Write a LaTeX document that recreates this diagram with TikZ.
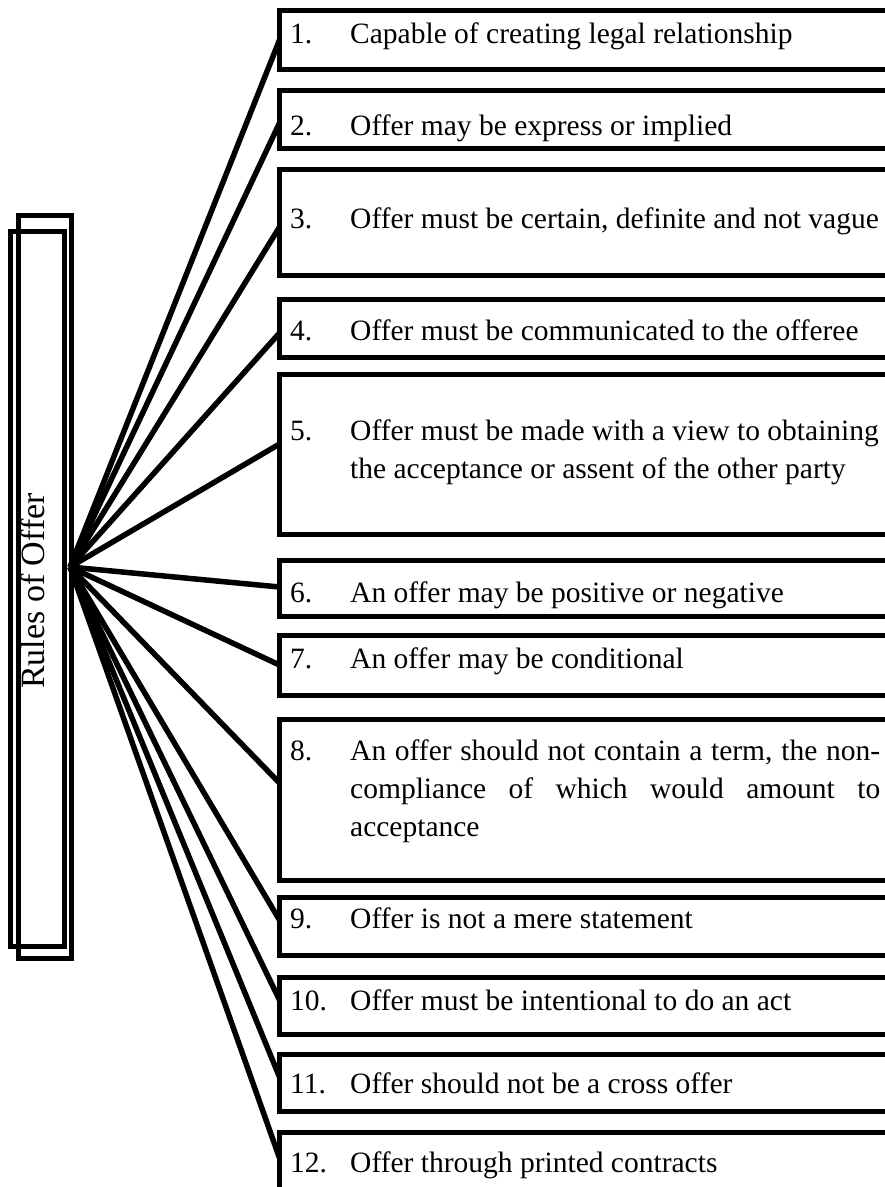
\documentclass[tikz,border=0pt]{standalone}
\usepackage{fontspec}
\setmainfont{Liberation Serif}
\usetikzlibrary{calc}
\begin{document}
\begin{tikzpicture}[x=1pt,y=-1pt,
  frame/.style={draw, line width=5pt, rectangle, inner sep=0pt, outer sep=0pt, anchor=north west},
  link/.style={line width=5.5pt},
  num/.style={anchor=base west, inner sep=0pt, font=\fontsize{29.5}{36}\selectfont},
  txt/.style={anchor=base west, inner sep=0pt, font=\fontsize{29.5}{36}\selectfont}]
\useasboundingbox (0,0) rectangle (885,1187);
\clip (0,0) rectangle (885,1187);

% title column: two overlapping frames
\node[frame, minimum width=52.5pt, minimum height=743pt] (rules) at (18.5,215) {};
\node[frame, minimum width=54pt, minimum height=715pt] (rulesback) at (10.5,231) {};
\node[rotate=90, anchor=base, inner sep=0pt, font=\fontsize{34}{40}\selectfont] (title) at (44,591) {Rules of Offer};
\coordinate (hub) at (70,567);

% rule frames (open to the right)
\node[frame, minimum width=630pt, minimum height=59pt]  (b1)  at (279.5,10)   {};
\node[frame, minimum width=630pt, minimum height=58pt]  (b2)  at (279.5,90)   {};
\node[frame, minimum width=630pt, minimum height=106pt] (b3)  at (279.5,169)  {};
\node[frame, minimum width=630pt, minimum height=58pt]  (b4)  at (279.5,299)  {};
\node[frame, minimum width=630pt, minimum height=160pt] (b5)  at (279.5,374)  {};
\node[frame, minimum width=630pt, minimum height=56pt]  (b6)  at (279.5,560)  {};
\node[frame, minimum width=630pt, minimum height=60pt]  (b7)  at (279.5,635)  {};
\node[frame, minimum width=630pt, minimum height=161pt] (b8)  at (279.5,719)  {};
\node[frame, minimum width=630pt, minimum height=58pt]  (b9)  at (279.5,897)  {};
\node[frame, minimum width=630pt, minimum height=57pt]  (b10) at (279.5,977)  {};
\node[frame, minimum width=630pt, minimum height=57pt]  (b11) at (279.5,1054) {};
\node[frame, minimum width=630pt, minimum height=100pt] (b12) at (279.5,1132) {};

% connectors from the title column
\draw[link] (hub) -- ($(b1.north west)+(0,30)$);
\draw[link] (hub) -- ($(b2.north west)+(0,33)$);
\draw[link] (hub) -- ($(b3.north west)+(0,58)$);
\draw[link] (hub) -- ($(b4.north west)+(0,34)$);
\draw[link] (hub) -- ($(b5.north west)+(0,70)$);
\draw[link] (hub) -- ($(b6.north west)+(0,27)$);
\draw[link] (hub) -- ($(b7.north west)+(0,30)$);
\draw[link] (hub) -- ($(b8.north west)+(0,64)$);
\draw[link] (hub) -- ($(b9.north west)+(0,23)$);
\draw[link] (hub) -- ($(b10.north west)+(0,23)$);
\draw[link] (hub) -- ($(b11.north west)+(0,23)$);
\draw[link] (hub) -- ($(b12.north west)+(0,26)$);

% rule texts
\node[num] (n1) at (290,43) {1.};
\node[txt] (t1) at (350,43) {Capable of creating legal relationship};
\node[num] (n2) at (290,135) {2.};
\node[txt] (t2) at (350,135) {Offer may be express or implied};
\node[num] (n3) at (290,228) {3.};
\node[txt] (t3) at (350,228) {Offer must be certain, definite and not vague};
\node[num] (n4) at (290,340) {4.};
\node[txt] (t4) at (350,340) {Offer must be communicated to the offeree};
\node[num] (n5) at (290,440) {5.};
\node[txt] (t5a) at (350,440) {Offer must be made with a view to obtaining};
\node[txt] (t5b) at (350,478) {the acceptance or assent of the other party};
\node[num] (n6) at (290,602) {6.};
\node[txt] (t6) at (350,602) {An offer may be positive or negative};
\node[num] (n7) at (290,668) {7.};
\node[txt] (t7) at (350,668) {An offer may be conditional};
\node[num] (n8) at (290,760) {8.};
\node[txt] (t8a) at (350,760) {\makebox[530pt][s]{An offer should not contain a term, the non-}};
\node[txt] (t8b) at (350,798) {\makebox[530pt][s]{compliance of which would amount to}};
\node[txt] (t8c) at (350,836) {acceptance};
\node[num] (n9) at (290,928) {9.};
\node[txt] (t9) at (350,928) {Offer is not a mere statement};
\node[num] (n10) at (290,1010) {10.};
\node[txt] (t10) at (350,1010) {Offer must be intentional to do an act};
\node[num] (n11) at (290,1093) {11.};
\node[txt] (t11) at (350,1093) {Offer should not be a cross offer};
\node[num] (n12) at (290,1172) {12.};
\node[txt] (t12) at (350,1172) {Offer through printed contracts};
\end{tikzpicture}
\end{document}
